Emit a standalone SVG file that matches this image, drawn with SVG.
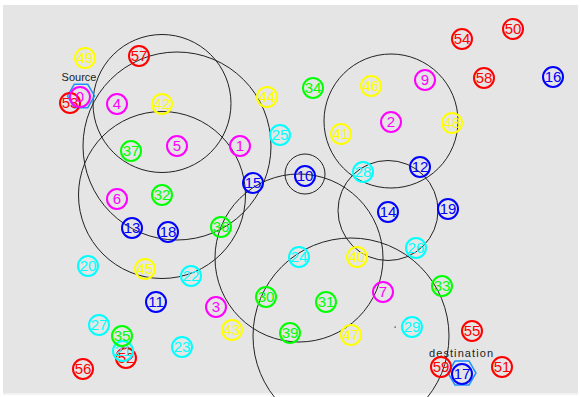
<svg xmlns="http://www.w3.org/2000/svg" width="581" height="397" viewBox="0 0 581 397">
<style>
.rng circle{fill:none;stroke:#222;stroke-width:1}
.n circle{fill:none;stroke-width:2}
.n text{font-family:"Liberation Sans",Arial,sans-serif;font-size:15px;text-anchor:middle}
.m circle{stroke:#f0f}.m text{fill:#f0f}
.b circle{stroke:#00f}.b text{fill:#00f}
.c circle{stroke:#0ff}.c text{fill:#0ff}
.g circle{stroke:#0f0}.g text{fill:#0f0}
.y circle{stroke:#ff0}.y text{fill:#ff0}
.r circle{stroke:#f00}.r text{fill:#f00}
.hex{fill:none;stroke:#1e90ff;stroke-width:1.5}
.lbl{font-family:"Liberation Sans",Arial,sans-serif;font-size:11px;fill:#222}
</style>
<rect x="0" y="0" width="581" height="397" fill="#fff"/>
<rect x="3" y="5" width="575" height="388" fill="#e5e5e5"/>
<rect x="3" y="393" width="575" height="2" fill="#f2f2f2"/>
<g id="ranges" class="rng">
<circle cx="162" cy="103.5" r="69"/>
<circle cx="177" cy="146" r="94"/>
<circle cx="162" cy="195" r="83.5"/>
<circle cx="299" cy="258" r="84"/>
<circle cx="305" cy="174" r="20"/>
<circle cx="391" cy="121" r="67"/>
<circle cx="388" cy="210.5" r="50"/>
<circle cx="351" cy="336" r="98"/>
</g>
<g id="connectors"></g>
<g id="source">
<polygon class="hex" points="67.5,96 74.25,84.3 87.75,84.3 94.5,96 87.75,107.7 74.25,107.7"/>
<text class="lbl" x="79" y="81" text-anchor="middle">Source</text>
</g>
<g id="destination">
<polygon class="hex" points="448,373 455,360.9 469,360.9 476,373 469,385.1 455,385.1"/>
<text class="lbl" x="429" y="357" textLength="64">destination</text>
</g>
<g id="n53" class="n r"><circle cx="70" cy="103" r="10"/><text x="70" y="108">53</text></g>
<g id="n0" class="n m"><circle cx="80" cy="97" r="10"/><text x="80" y="102">0</text></g>
<g id="n1" class="n m"><circle cx="240" cy="146" r="10"/><text x="240" y="151">1</text></g>
<g id="n2" class="n m"><circle cx="391" cy="122" r="10"/><text x="391" y="127">2</text></g>
<g id="n3" class="n m"><circle cx="216" cy="307" r="10"/><text x="216" y="312">3</text></g>
<g id="n4" class="n m"><circle cx="117" cy="104" r="10"/><text x="117" y="109">4</text></g>
<g id="n5" class="n m"><circle cx="177" cy="146" r="10"/><text x="177" y="151">5</text></g>
<g id="n6" class="n m"><circle cx="117" cy="199" r="10"/><text x="117" y="204">6</text></g>
<g id="n7" class="n m"><circle cx="383" cy="292" r="10"/><text x="383" y="297">7</text></g>
<g id="n9" class="n m"><circle cx="425" cy="80" r="10"/><text x="425" y="85">9</text></g>
<g id="n10" class="n b"><circle cx="305" cy="176" r="10"/><text x="305" y="181">10</text></g>
<g id="n11" class="n b"><circle cx="156" cy="302" r="10"/><text x="156" y="307">11</text></g>
<g id="n12" class="n b"><circle cx="420" cy="167" r="10"/><text x="420" y="172">12</text></g>
<g id="n13" class="n b"><circle cx="132" cy="228" r="10"/><text x="132" y="233">13</text></g>
<g id="n14" class="n b"><circle cx="388" cy="212" r="10"/><text x="388" y="217">14</text></g>
<g id="n15" class="n b"><circle cx="253" cy="183" r="10"/><text x="253" y="188">15</text></g>
<g id="n16" class="n b"><circle cx="553" cy="77" r="10"/><text x="553" y="82">16</text></g>
<g id="n17" class="n b"><circle cx="462" cy="374" r="10"/><text x="462" y="379">17</text></g>
<g id="n18" class="n b"><circle cx="168" cy="232" r="10"/><text x="168" y="237">18</text></g>
<g id="n19" class="n b"><circle cx="448" cy="209" r="10"/><text x="448" y="214">19</text></g>
<g id="n20" class="n c"><circle cx="88" cy="266" r="10"/><text x="88" y="271">20</text></g>
<g id="n52" class="n r"><circle cx="126" cy="358" r="10"/><text x="126" y="363">52</text></g>
<g id="n21" class="n c"><circle cx="123" cy="351" r="10"/><text x="123" y="356">21</text></g>
<g id="n22" class="n c"><circle cx="191" cy="276" r="10"/><text x="191" y="281">22</text></g>
<g id="n23" class="n c"><circle cx="182" cy="347" r="10"/><text x="182" y="352">23</text></g>
<g id="n24" class="n c"><circle cx="299" cy="257" r="10"/><text x="299" y="262">24</text></g>
<g id="n25" class="n c"><circle cx="280" cy="135" r="10"/><text x="280" y="140">25</text></g>
<g id="n26" class="n c"><circle cx="416" cy="248" r="10"/><text x="416" y="253">26</text></g>
<g id="n27" class="n c"><circle cx="99" cy="325" r="10"/><text x="99" y="330">27</text></g>
<g id="n28" class="n c"><circle cx="363" cy="172" r="10"/><text x="363" y="177">28</text></g>
<g id="n29" class="n c"><circle cx="412" cy="327" r="10"/><text x="412" y="332">29</text></g>
<g id="n30" class="n g"><circle cx="266" cy="297" r="10"/><text x="266" y="302">30</text></g>
<g id="n31" class="n g"><circle cx="326" cy="302" r="10"/><text x="326" y="307">31</text></g>
<g id="n32" class="n g"><circle cx="162" cy="195" r="10"/><text x="162" y="200">32</text></g>
<g id="n33" class="n g"><circle cx="442" cy="286" r="10"/><text x="442" y="291">33</text></g>
<g id="n34" class="n g"><circle cx="313" cy="88" r="10"/><text x="313" y="93">34</text></g>
<g id="n35" class="n g"><circle cx="122" cy="336" r="10"/><text x="122" y="341">35</text></g>
<g id="n36" class="n g"><circle cx="221" cy="227" r="10"/><text x="221" y="232">36</text></g>
<g id="n37" class="n g"><circle cx="131" cy="151" r="10"/><text x="131" y="156">37</text></g>
<g id="n39" class="n g"><circle cx="290" cy="333" r="10"/><text x="290" y="338">39</text></g>
<g id="n40" class="n y"><circle cx="357" cy="257" r="10"/><text x="357" y="262">40</text></g>
<g id="n41" class="n y"><circle cx="341" cy="134" r="10"/><text x="341" y="139">41</text></g>
<g id="n42" class="n y"><circle cx="162" cy="104" r="10"/><text x="162" y="109">42</text></g>
<g id="n43" class="n y"><circle cx="232" cy="330" r="10"/><text x="232" y="335">43</text></g>
<g id="n44" class="n y"><circle cx="267" cy="97" r="10"/><text x="267" y="102">44</text></g>
<g id="n45" class="n y"><circle cx="145" cy="269" r="10"/><text x="145" y="274">45</text></g>
<g id="n46" class="n y"><circle cx="371" cy="86" r="10"/><text x="371" y="91">46</text></g>
<g id="n47" class="n y"><circle cx="351" cy="335" r="10"/><text x="351" y="340">47</text></g>
<g id="n48" class="n y"><circle cx="452" cy="123" r="10"/><text x="452" y="128">48</text></g>
<g id="n49" class="n y"><circle cx="85" cy="58" r="10"/><text x="85" y="63">49</text></g>
<g id="n50" class="n r"><circle cx="513" cy="29" r="10"/><text x="513" y="34">50</text></g>
<g id="n51" class="n r"><circle cx="502" cy="367" r="10"/><text x="502" y="372">51</text></g>
<g id="n54" class="n r"><circle cx="462" cy="39" r="10"/><text x="462" y="44">54</text></g>
<g id="n55" class="n r"><circle cx="472" cy="331" r="10"/><text x="472" y="336">55</text></g>
<g id="n56" class="n r"><circle cx="83" cy="369" r="10"/><text x="83" y="374">56</text></g>
<g id="n57" class="n r"><circle cx="139" cy="56" r="10"/><text x="139" y="61">57</text></g>
<g id="n58" class="n r"><circle cx="484" cy="78" r="10"/><text x="484" y="83">58</text></g>
<g id="n59" class="n r"><circle cx="441" cy="367" r="10"/><text x="441" y="372">59</text></g>
<rect x="394.5" y="326.5" width="1.2" height="1.2" fill="#222"/>
</svg>
